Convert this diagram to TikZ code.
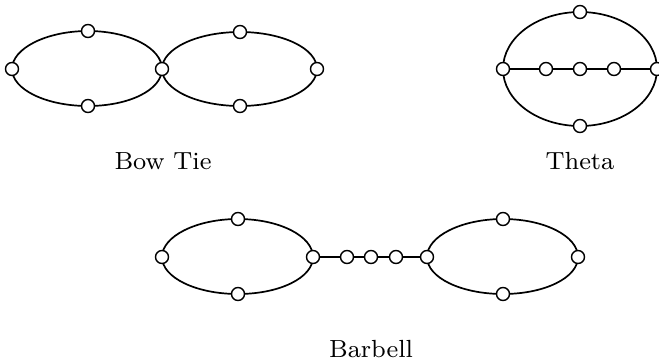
\documentclass[tikz,border=0pt]{standalone}
\usepackage{graphicx}
\usetikzlibrary{backgrounds}
\newcommand{\biglbl}[1]{\scalebox{3.1}{\fontsize{8}{9.6}\selectfont #1}}
\begin{document}
\begin{tikzpicture}[x=1pt,y=-1pt,
  vtx/.style={circle,draw,fill=white,line width=1.4pt,minimum size=13pt,inner sep=0pt},
  edg/.style={line width=1.7pt},
  lbl/.style={anchor=base,inner sep=0pt}]
\useasboundingbox (0,0) rectangle (659,362);
% Bow tie
\node[vtx] (b1l) at (12,69) {};
\node[vtx] (b1t) at (88,31) {};
\node[vtx] (b1b) at (88,106) {};
\node[vtx] (bc) at (162,69) {};
\node[vtx] (b2t) at (240,32) {};
\node[vtx] (b2b) at (240,106) {};
\node[vtx] (b2r) at (317,69) {};
% Theta
\node[vtx] (tt) at (580,12) {};
\node[vtx] (tb) at (580,126) {};
\node[vtx] (tl) at (503,69) {};
\node[vtx] (tr) at (657,69) {};
\node[vtx] (t1) at (546,69) {};
\node[vtx] (t2) at (580,69) {};
\node[vtx] (t3) at (614,69) {};
% Barbell
\node[vtx] (a1l) at (162,257) {};
\node[vtx] (a1t) at (238,219) {};
\node[vtx] (a1b) at (238,294) {};
\node[vtx] (a1r) at (313,257) {};
\node[vtx] (p1) at (347,257) {};
\node[vtx] (p2) at (371,257) {};
\node[vtx] (p3) at (396,257) {};
\node[vtx] (a2l) at (427,257) {};
\node[vtx] (a2t) at (503,219) {};
\node[vtx] (a2b) at (503,294) {};
\node[vtx] (a2r) at (578,257) {};
\begin{scope}[on background layer]
\draw[edg] (b1l.center) .. controls +(0,-20.7) and +(-41.4,0) .. (b1t.center)
  .. controls +(41.4,0) and +(0,-20.7) .. (bc.center)
  .. controls +(0,20.7) and +(41.4,0) .. (b1b.center)
  .. controls +(-41.4,0) and +(0,20.7) .. (b1l.center);
\draw[edg] (bc.center) .. controls +(0,-20.4) and +(-42.8,0) .. (b2t.center)
  .. controls +(42.8,0) and +(0,-20.4) .. (b2r.center)
  .. controls +(0,20.4) and +(42.8,0) .. (b2b.center)
  .. controls +(-42.8,0) and +(0,20.4) .. (bc.center);
\draw[edg] (tl.center) .. controls +(0,-31.5) and +(-42.5,0) .. (tt.center)
  .. controls +(42.5,0) and +(0,-31.5) .. (tr.center)
  .. controls +(0,31.5) and +(42.5,0) .. (tb.center)
  .. controls +(-42.5,0) and +(0,31.5) .. (tl.center);
\draw[edg] (tl.center) -- (t1.center) -- (t2.center) -- (t3.center) -- (tr.center);
\draw[edg] (a1l.center) .. controls +(0,-20.7) and +(-41.7,0) .. (a1t.center)
  .. controls +(41.7,0) and +(0,-20.7) .. (a1r.center)
  .. controls +(0,20.7) and +(41.7,0) .. (a1b.center)
  .. controls +(-41.7,0) and +(0,20.7) .. (a1l.center);
\draw[edg] (a1r.center) -- (p1.center) -- (p2.center) -- (p3.center) -- (a2l.center);
\draw[edg] (a2l.center) .. controls +(0,-20.7) and +(-41.7,0) .. (a2t.center)
  .. controls +(41.7,0) and +(0,-20.7) .. (a2r.center)
  .. controls +(0,20.7) and +(41.7,0) .. (a2b.center)
  .. controls +(-41.7,0) and +(0,20.7) .. (a2l.center);
\end{scope}
\node[lbl] (lbow) at (163,169) {\biglbl{Bow Tie}};
\node[lbl] (ltheta) at (580,169) {\biglbl{Theta}};
\node[lbl] (lbar) at (371,357) {\biglbl{Barbell}};
\end{tikzpicture}
\end{document}
